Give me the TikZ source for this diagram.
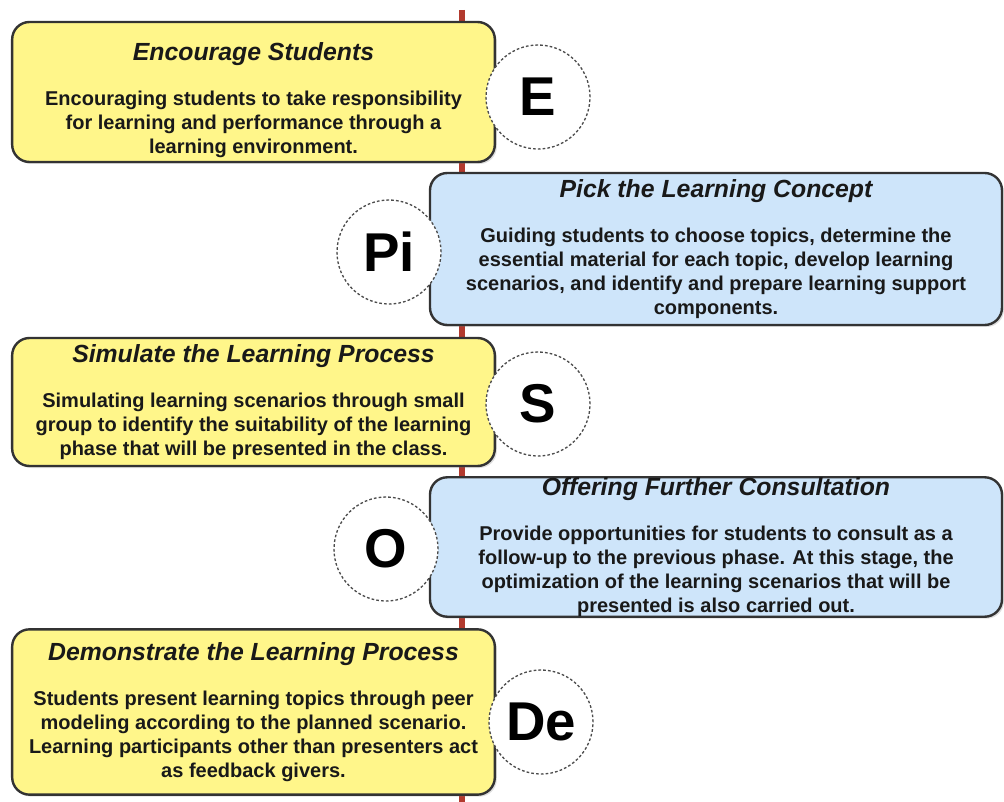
\documentclass[tikz,border=0pt]{standalone}
\usepackage{fontspec}
\setmainfont{Liberation Sans}
\usetikzlibrary{shadows}

\definecolor{boxyellow}{RGB}{255,246,138}
\definecolor{boxblue}{RGB}{206,229,250}
\definecolor{spinered}{RGB}{178,58,46}
\newcommand{\ttl}[1]{{\fontsize{18.6}{18}\selectfont\bfseries\itshape #1}}

\begin{document}
\begin{tikzpicture}[x=0.75pt,y=-0.75pt,
				phase/.style={draw=black!80, line width=1.8pt, rounded corners=13pt,
					align=center, inner sep=0pt, text=black!90,
					font=\fontsize{15}{18}\selectfont\bfseries,
					drop shadow={opacity=0.25,shadow xshift=1.5pt,shadow yshift=-1.5pt}},
				yel/.style={phase, fill=boxyellow, minimum width=362pt},
				blu/.style={phase, fill=boxblue, minimum width=429pt},
				letter/.style={circle, draw=black!70, line width=1pt,
					dash pattern=on 2pt off 1.6pt, fill=white, minimum size=78pt,
					inner sep=0pt, font=\fontsize{41}{41}\selectfont\bfseries}]
				\useasboundingbox (0,0) rectangle (1004,802);
				% spine
				\coordinate (top) at (462,10);
				\coordinate (bot) at (462,802);
				\draw[spinered, line width=5pt] (top) -- (bot);
				% phases
				\node[yel, minimum height=105pt] (enc) at (253.5,92) {\ttl{\rule{0pt}{26pt}Encourage Students}\\[16pt]
					Encouraging students to take responsibility\\ for learning and performance through a\\ learning environment.};
				\node[blu, minimum height=114pt] (pick) at (716,249) {\ttl{Pick the Learning Concept}\\[16pt]
					Guiding students to choose topics, determine the\\ essential material for each topic, develop learning\\ scenarios, and identify and prepare learning support\\ components.};
				\node[yel, minimum height=96pt] (sim) at (253.5,402) {\ttl{Simulate the Learning Process}\\[16pt]
					Simulating learning scenarios through small\\ group to identify the suitability of the learning\\ phase that will be presented in the class.};
				\node[blu, minimum height=103.5pt] (off) at (716,547) {\ttl{Offering Further Consultation}\\[16pt]
					Provide opportunities for students to consult as a\\ follow-up to the previous phase. At this stage, the\\ optimization of the learning scenarios that will be\\ presented is also carried out.};
				\node[yel, minimum height=124pt] (demo) at (253.5,712) {\ttl{Demonstrate the Learning Process}\\[16pt]
					Students present learning topics through peer\\ modeling according to the planned scenario.\\ Learning participants other than presenters act\\ as feedback givers.};
				% letters
				\node[letter] (cE) at (538,97) {E};
				\node[letter] (cPi) at (389,252) {Pi};
				\node[letter] (cS) at (538,404) {S};
				\node[letter] (cO) at (386,549) {O};
				\node[letter] (cDe) at (541,722) {De};
			\end{tikzpicture}
\end{document}
